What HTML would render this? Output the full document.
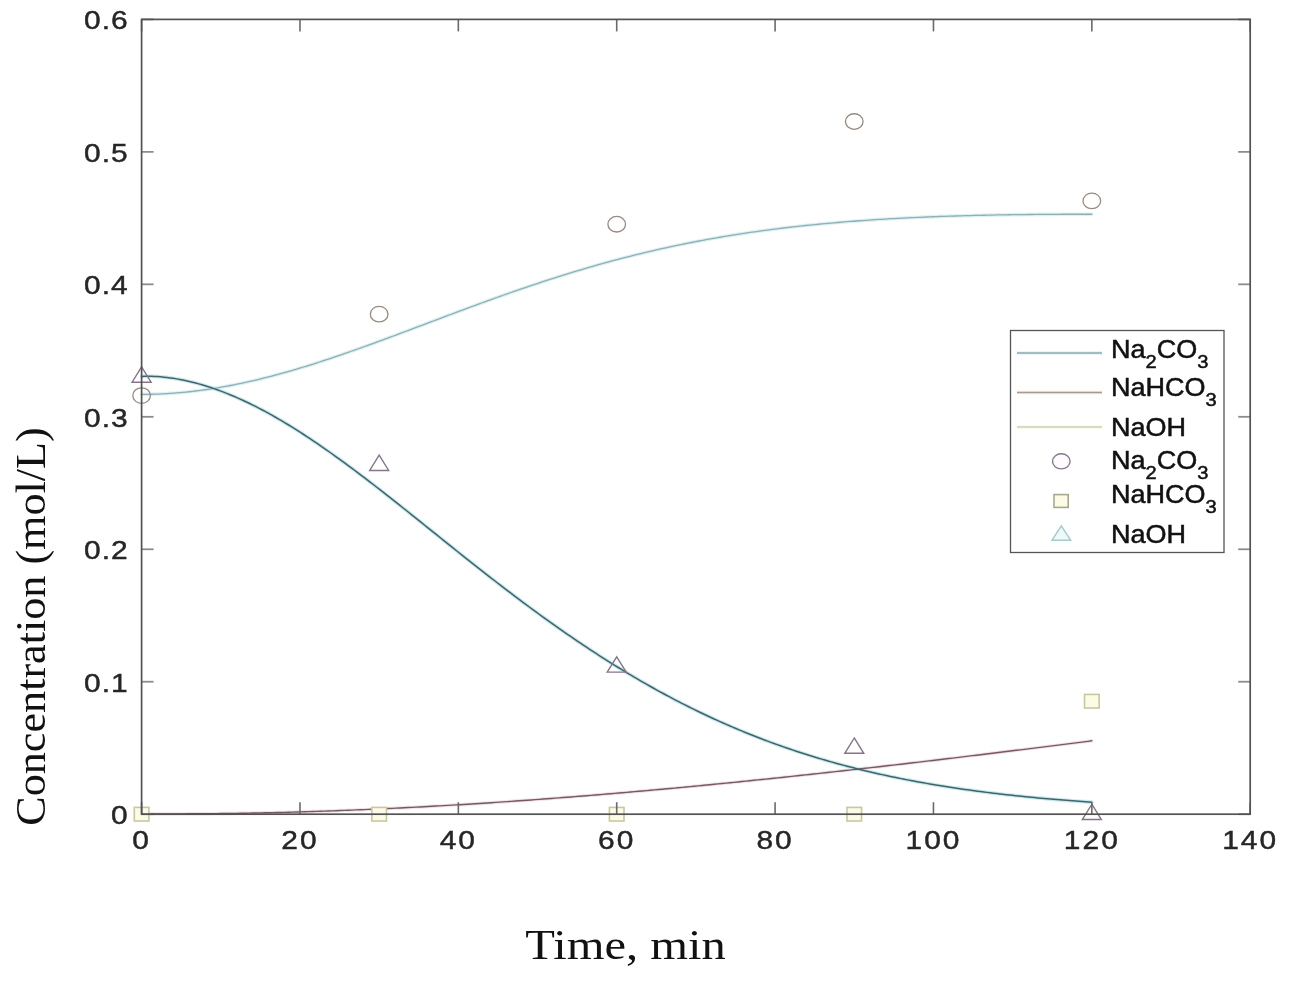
<!DOCTYPE html>
<html><head><meta charset="utf-8"><style>
html,body{margin:0;padding:0;background:#fff;}
svg{display:block;will-change:transform;}
.sans{font-family:"Liberation Sans",sans-serif;}
.serif{font-family:"Liberation Serif",serif;}
</style></head><body>
<svg width="1290" height="982" viewBox="0 0 1290 982">
<rect width="1290" height="982" fill="#fff"/>
<g fill="none" stroke-linejoin="round" stroke-linecap="round">
<path d="M141.60,813.78 L145.58,813.80 L149.55,813.82 L153.53,813.84 L157.50,813.85 L161.48,813.86 L165.45,813.87 L169.43,813.87 L173.41,813.87 L177.38,813.86 L181.36,813.85 L185.33,813.84 L189.31,813.82 L193.28,813.80 L197.26,813.77 L201.24,813.75 L205.21,813.71 L209.19,813.68 L213.16,813.64 L217.14,813.60 L221.11,813.55 L225.09,813.50 L229.07,813.45 L233.04,813.39 L237.02,813.33 L240.99,813.26 L244.97,813.20 L248.94,813.12 L252.92,813.05 L256.90,812.97 L260.87,812.89 L264.85,812.80 L268.82,812.72 L272.80,812.62 L276.77,812.53 L280.75,812.43 L284.73,812.33 L288.70,812.22 L292.68,812.11 L296.65,812.00 L300.63,811.88 L304.61,811.76 L308.58,811.64 L312.56,811.52 L316.53,811.39 L320.51,811.26 L324.48,811.12 L328.46,810.98 L332.44,810.84 L336.41,810.69 L340.39,810.55 L344.36,810.39 L348.34,810.24 L352.31,810.08 L356.29,809.92 L360.27,809.76 L364.24,809.59 L368.22,809.42 L372.19,809.25 L376.17,809.07 L380.14,808.89 L384.12,808.71 L388.10,808.52 L392.07,808.33 L396.05,808.14 L400.02,807.95 L404.00,807.75 L407.97,807.55 L411.95,807.35 L415.93,807.14 L419.90,806.93 L423.88,806.72 L427.85,806.50 L431.83,806.28 L435.80,806.06 L439.78,805.84 L443.76,805.61 L447.73,805.38 L451.71,805.15 L455.68,804.92 L459.66,804.68 L463.63,804.44 L467.61,804.20 L471.59,803.95 L475.56,803.70 L479.54,803.45 L483.51,803.20 L487.49,802.94 L491.46,802.68 L495.44,802.42 L499.42,802.15 L503.39,801.88 L507.37,801.61 L511.34,801.34 L515.32,801.07 L519.29,800.79 L523.27,800.51 L527.25,800.22 L531.22,799.94 L535.20,799.65 L539.17,799.36 L543.15,799.07 L547.12,798.77 L551.10,798.47 L555.08,798.17 L559.05,797.87 L563.03,797.57 L567.00,797.26 L570.98,796.95 L574.95,796.63 L578.93,796.32 L582.91,796.00 L586.88,795.68 L590.86,795.36 L594.83,795.04 L598.81,794.71 L602.78,794.38 L606.76,794.05 L610.74,793.72 L614.71,793.38 L618.69,793.04 L622.66,792.70 L626.64,792.36 L630.62,792.02 L634.59,791.67 L638.57,791.32 L642.54,790.97 L646.52,790.62 L650.49,790.26 L654.47,789.90 L658.45,789.54 L662.42,789.18 L666.40,788.82 L670.37,788.45 L674.35,788.09 L678.32,787.72 L682.30,787.34 L686.28,786.97 L690.25,786.59 L694.23,786.22 L698.20,785.84 L702.18,785.46 L706.15,785.07 L710.13,784.69 L714.11,784.30 L718.08,783.91 L722.06,783.52 L726.03,783.13 L730.01,782.73 L733.98,782.33 L737.96,781.93 L741.94,781.53 L745.91,781.13 L749.89,780.73 L753.86,780.32 L757.84,779.92 L761.81,779.51 L765.79,779.09 L769.77,778.68 L773.74,778.27 L777.72,777.85 L781.69,777.43 L785.67,777.01 L789.64,776.59 L793.62,776.17 L797.60,775.75 L801.57,775.32 L805.55,774.89 L809.52,774.46 L813.50,774.03 L817.47,773.60 L821.45,773.17 L825.43,772.73 L829.40,772.29 L833.38,771.86 L837.35,771.42 L841.33,770.98 L845.30,770.53 L849.28,770.09 L853.26,769.64 L857.23,769.20 L861.21,768.75 L865.18,768.30 L869.16,767.85 L873.13,767.39 L877.11,766.94 L881.09,766.48 L885.06,766.03 L889.04,765.57 L893.01,765.11 L896.99,764.65 L900.96,764.19 L904.94,763.73 L908.92,763.26 L912.89,762.80 L916.87,762.33 L920.84,761.86 L924.82,761.39 L928.79,760.92 L932.77,760.45 L936.75,759.98 L940.72,759.51 L944.70,759.03 L948.67,758.56 L952.65,758.08 L956.63,757.60 L960.60,757.12 L964.58,756.64 L968.55,756.16 L972.53,755.68 L976.50,755.20 L980.48,754.71 L984.46,754.23 L988.43,753.74 L992.41,753.25 L996.38,752.77 L1000.36,752.28 L1004.33,751.79 L1008.31,751.30 L1012.29,750.81 L1016.26,750.31 L1020.24,749.82 L1024.21,749.33 L1028.19,748.83 L1032.16,748.33 L1036.14,747.84 L1040.12,747.34 L1044.09,746.84 L1048.07,746.34 L1052.04,745.84 L1056.02,745.34 L1059.99,744.84 L1063.97,744.34 L1067.95,743.84 L1071.92,743.34 L1075.90,742.83 L1079.87,742.33 L1083.85,741.82 L1087.82,741.32 L1091.80,740.81" stroke="#f2e2e6" stroke-width="3.4"/>
<path d="M141.60,394.34 L144.78,394.34 L147.96,394.31 L151.13,394.25 L154.31,394.17 L157.49,394.07 L160.67,393.94 L163.85,393.79 L167.02,393.61 L170.20,393.42 L173.38,393.19 L176.56,392.95 L179.74,392.68 L182.91,392.39 L186.09,392.08 L189.27,391.75 L192.45,391.39 L195.62,391.01 L198.80,390.61 L201.98,390.19 L205.16,389.75 L208.34,389.29 L211.51,388.80 L214.69,388.30 L217.87,387.78 L221.05,387.23 L224.23,386.67 L227.40,386.09 L230.58,385.49 L233.76,384.87 L236.94,384.23 L240.12,383.57 L243.29,382.90 L246.47,382.20 L249.65,381.49 L252.83,380.76 L256.01,380.02 L259.18,379.26 L262.36,378.48 L265.54,377.68 L268.72,376.87 L271.89,376.05 L275.07,375.21 L278.25,374.35 L281.43,373.48 L284.61,372.60 L287.78,371.70 L290.96,370.78 L294.14,369.86 L297.32,368.92 L300.50,367.97 L303.67,367.00 L306.85,366.02 L310.03,365.04 L313.21,364.04 L316.39,363.03 L319.56,362.00 L322.74,360.97 L325.92,359.93 L329.10,358.88 L332.28,357.81 L335.45,356.74 L338.63,355.66 L341.81,354.57 L344.99,353.48 L348.17,352.37 L351.34,351.26 L354.52,350.14 L357.70,349.01 L360.88,347.88 L364.05,346.74 L367.23,345.60 L370.41,344.45 L373.59,343.29 L376.77,342.13 L379.94,340.96 L383.12,339.79 L386.30,338.62 L389.48,337.44 L392.66,336.26 L395.83,335.08 L399.01,333.89 L402.19,332.70 L405.37,331.51 L408.55,330.31 L411.72,329.12 L414.90,327.92 L418.08,326.73 L421.26,325.53 L424.44,324.33 L427.61,323.13 L430.79,321.93 L433.97,320.74 L437.15,319.54 L440.33,318.34 L443.50,317.15 L446.68,315.95 L449.86,314.76 L453.04,313.57 L456.21,312.38 L459.39,311.20 L462.57,310.02 L465.75,308.84 L468.93,307.66 L472.10,306.49 L475.28,305.32 L478.46,304.15 L481.64,302.99 L484.82,301.84 L487.99,300.68 L491.17,299.54 L494.35,298.39 L497.53,297.26 L500.71,296.12 L503.88,295.00 L507.06,293.88 L510.24,292.76 L513.42,291.65 L516.60,290.55 L519.77,289.45 L522.95,288.36 L526.13,287.28 L529.31,286.20 L532.48,285.13 L535.66,284.07 L538.84,283.01 L542.02,281.97 L545.20,280.93 L548.37,279.89 L551.55,278.87 L554.73,277.85 L557.91,276.84 L561.09,275.84 L564.26,274.85 L567.44,273.86 L570.62,272.89 L573.80,271.92 L576.98,270.96 L580.15,270.01 L583.33,269.06 L586.51,268.13 L589.69,267.21 L592.87,266.29 L596.04,265.38 L599.22,264.49 L602.40,263.60 L605.58,262.72 L608.76,261.85 L611.93,260.99 L615.11,260.13 L618.29,259.29 L621.47,258.46 L624.64,257.63 L627.82,256.82 L631.00,256.01 L634.18,255.22 L637.36,254.43 L640.53,253.65 L643.71,252.89 L646.89,252.13 L650.07,251.38 L653.25,250.64 L656.42,249.91 L659.60,249.19 L662.78,248.48 L665.96,247.77 L669.14,247.08 L672.31,246.40 L675.49,245.72 L678.67,245.06 L681.85,244.40 L685.03,243.76 L688.20,243.12 L691.38,242.49 L694.56,241.87 L697.74,241.26 L700.92,240.66 L704.09,240.07 L707.27,239.48 L710.45,238.91 L713.63,238.34 L716.80,237.79 L719.98,237.24 L723.16,236.70 L726.34,236.17 L729.52,235.65 L732.69,235.13 L735.87,234.63 L739.05,234.13 L742.23,233.64 L745.41,233.16 L748.58,232.69 L751.76,232.23 L754.94,231.77 L758.12,231.32 L761.30,230.88 L764.47,230.45 L767.65,230.03 L770.83,229.61 L774.01,229.20 L777.19,228.80 L780.36,228.41 L783.54,228.02 L786.72,227.64 L789.90,227.27 L793.07,226.90 L796.25,226.55 L799.43,226.19 L802.61,225.85 L805.79,225.51 L808.96,225.18 L812.14,224.86 L815.32,224.54 L818.50,224.23 L821.68,223.93 L824.85,223.63 L828.03,223.34 L831.21,223.05 L834.39,222.78 L837.57,222.50 L840.74,222.24 L843.92,221.97 L847.10,221.72 L850.28,221.47 L853.46,221.23 L856.63,220.99 L859.81,220.76 L862.99,220.53 L866.17,220.31 L869.35,220.09 L872.52,219.88 L875.70,219.67 L878.88,219.47 L882.06,219.28 L885.23,219.09 L888.41,218.90 L891.59,218.72 L894.77,218.54 L897.95,218.37 L901.12,218.20 L904.30,218.04 L907.48,217.88 L910.66,217.72 L913.84,217.57 L917.01,217.43 L920.19,217.29 L923.37,217.15 L926.55,217.02 L929.73,216.89 L932.90,216.76 L936.08,216.64 L939.26,216.52 L942.44,216.41 L945.62,216.30 L948.79,216.19 L951.97,216.08 L955.15,215.98 L958.33,215.89 L961.51,215.79 L964.68,215.70 L967.86,215.62 L971.04,215.53 L974.22,215.45 L977.39,215.38 L980.57,215.30 L983.75,215.23 L986.93,215.16 L990.11,215.10 L993.28,215.03 L996.46,214.97 L999.64,214.91 L1002.82,214.86 L1006.00,214.81 L1009.17,214.76 L1012.35,214.71 L1015.53,214.67 L1018.71,214.63 L1021.89,214.59 L1025.06,214.55 L1028.24,214.51 L1031.42,214.48 L1034.60,214.45 L1037.78,214.42 L1040.95,214.40 L1044.13,214.37 L1047.31,214.35 L1050.49,214.33 L1053.66,214.32 L1056.84,214.30 L1060.02,214.29 L1063.20,214.27 L1066.38,214.27 L1069.55,214.26 L1072.73,214.25 L1075.91,214.25 L1079.09,214.25 L1082.27,214.24 L1085.44,214.25 L1088.62,214.25 L1091.80,214.25" stroke="#dcf1f3" stroke-width="3.6"/>
<path d="M141.60,376.39 L144.78,376.29 L147.96,376.28 L151.13,376.33 L154.31,376.44 L157.49,376.62 L160.67,376.85 L163.85,377.14 L167.02,377.49 L170.20,377.90 L173.38,378.35 L176.56,378.87 L179.74,379.43 L182.91,380.05 L186.09,380.71 L189.27,381.43 L192.45,382.19 L195.62,383.01 L198.80,383.87 L201.98,384.78 L205.16,385.73 L208.34,386.73 L211.51,387.77 L214.69,388.86 L217.87,389.99 L221.05,391.16 L224.23,392.38 L227.40,393.64 L230.58,394.93 L233.76,396.27 L236.94,397.65 L240.12,399.07 L243.29,400.52 L246.47,402.01 L249.65,403.54 L252.83,405.10 L256.01,406.70 L259.18,408.34 L262.36,410.01 L265.54,411.71 L268.72,413.44 L271.89,415.21 L275.07,417.01 L278.25,418.84 L281.43,420.69 L284.61,422.58 L287.78,424.50 L290.96,426.45 L294.14,428.42 L297.32,430.42 L300.50,432.45 L303.67,434.50 L306.85,436.57 L310.03,438.67 L313.21,440.80 L316.39,442.95 L319.56,445.12 L322.74,447.31 L325.92,449.52 L329.10,451.75 L332.28,454.00 L335.45,456.27 L338.63,458.56 L341.81,460.87 L344.99,463.19 L348.17,465.53 L351.34,467.89 L354.52,470.26 L357.70,472.65 L360.88,475.05 L364.05,477.46 L367.23,479.88 L370.41,482.32 L373.59,484.77 L376.77,487.23 L379.94,489.70 L383.12,492.18 L386.30,494.67 L389.48,497.16 L392.66,499.67 L395.83,502.18 L399.01,504.69 L402.19,507.22 L405.37,509.75 L408.55,512.28 L411.72,514.82 L414.90,517.36 L418.08,519.90 L421.26,522.45 L424.44,525.00 L427.61,527.55 L430.79,530.10 L433.97,532.65 L437.15,535.20 L440.33,537.75 L443.50,540.30 L446.68,542.85 L449.86,545.40 L453.04,547.94 L456.21,550.48 L459.39,553.02 L462.57,555.55 L465.75,558.07 L468.93,560.60 L472.10,563.11 L475.28,565.62 L478.46,568.13 L481.64,570.62 L484.82,573.11 L487.99,575.59 L491.17,578.07 L494.35,580.53 L497.53,582.99 L500.71,585.44 L503.88,587.88 L507.06,590.30 L510.24,592.72 L513.42,595.13 L516.60,597.53 L519.77,599.92 L522.95,602.30 L526.13,604.66 L529.31,607.02 L532.48,609.36 L535.66,611.69 L538.84,614.01 L542.02,616.31 L545.20,618.61 L548.37,620.89 L551.55,623.16 L554.73,625.41 L557.91,627.65 L561.09,629.88 L564.26,632.10 L567.44,634.30 L570.62,636.48 L573.80,638.66 L576.98,640.81 L580.15,642.96 L583.33,645.09 L586.51,647.20 L589.69,649.30 L592.87,651.38 L596.04,653.45 L599.22,655.51 L602.40,657.55 L605.58,659.57 L608.76,661.58 L611.93,663.57 L615.11,665.55 L618.29,667.51 L621.47,669.46 L624.64,671.39 L627.82,673.30 L631.00,675.20 L634.18,677.08 L637.36,678.94 L640.53,680.79 L643.71,682.62 L646.89,684.44 L650.07,686.24 L653.25,688.02 L656.42,689.79 L659.60,691.54 L662.78,693.27 L665.96,694.99 L669.14,696.69 L672.31,698.37 L675.49,700.04 L678.67,701.69 L681.85,703.32 L685.03,704.94 L688.20,706.53 L691.38,708.12 L694.56,709.68 L697.74,711.23 L700.92,712.76 L704.09,714.28 L707.27,715.78 L710.45,717.26 L713.63,718.73 L716.80,720.17 L719.98,721.61 L723.16,723.02 L726.34,724.42 L729.52,725.81 L732.69,727.17 L735.87,728.52 L739.05,729.86 L742.23,731.18 L745.41,732.48 L748.58,733.77 L751.76,735.04 L754.94,736.29 L758.12,737.53 L761.30,738.75 L764.47,739.96 L767.65,741.15 L770.83,742.33 L774.01,743.49 L777.19,744.64 L780.36,745.77 L783.54,746.88 L786.72,747.99 L789.90,749.07 L793.07,750.14 L796.25,751.20 L799.43,752.24 L802.61,753.27 L805.79,754.28 L808.96,755.28 L812.14,756.27 L815.32,757.24 L818.50,758.20 L821.68,759.14 L824.85,760.07 L828.03,760.99 L831.21,761.89 L834.39,762.78 L837.57,763.66 L840.74,764.52 L843.92,765.37 L847.10,766.21 L850.28,767.04 L853.46,767.85 L856.63,768.65 L859.81,769.44 L862.99,770.21 L866.17,770.98 L869.35,771.73 L872.52,772.47 L875.70,773.20 L878.88,773.92 L882.06,774.62 L885.23,775.32 L888.41,776.00 L891.59,776.67 L894.77,777.34 L897.95,777.99 L901.12,778.63 L904.30,779.26 L907.48,779.88 L910.66,780.48 L913.84,781.08 L917.01,781.67 L920.19,782.25 L923.37,782.82 L926.55,783.38 L929.73,783.93 L932.90,784.47 L936.08,785.01 L939.26,785.53 L942.44,786.04 L945.62,786.55 L948.79,787.04 L951.97,787.53 L955.15,788.01 L958.33,788.48 L961.51,788.95 L964.68,789.40 L967.86,789.85 L971.04,790.29 L974.22,790.72 L977.39,791.14 L980.57,791.56 L983.75,791.96 L986.93,792.37 L990.11,792.76 L993.28,793.15 L996.46,793.53 L999.64,793.90 L1002.82,794.27 L1006.00,794.63 L1009.17,794.98 L1012.35,795.33 L1015.53,795.67 L1018.71,796.00 L1021.89,796.33 L1025.06,796.65 L1028.24,796.97 L1031.42,797.28 L1034.60,797.58 L1037.78,797.88 L1040.95,798.18 L1044.13,798.46 L1047.31,798.75 L1050.49,799.02 L1053.66,799.30 L1056.84,799.56 L1060.02,799.83 L1063.20,800.09 L1066.38,800.34 L1069.55,800.59 L1072.73,800.83 L1075.91,801.07 L1079.09,801.31 L1082.27,801.54 L1085.44,801.76 L1088.62,801.99 L1091.80,802.20" stroke="#c8ebf0" stroke-width="3.8"/>
<path d="M141.60,813.78 L145.58,813.80 L149.55,813.82 L153.53,813.84 L157.50,813.85 L161.48,813.86 L165.45,813.87 L169.43,813.87 L173.41,813.87 L177.38,813.86 L181.36,813.85 L185.33,813.84 L189.31,813.82 L193.28,813.80 L197.26,813.77 L201.24,813.75 L205.21,813.71 L209.19,813.68 L213.16,813.64 L217.14,813.60 L221.11,813.55 L225.09,813.50 L229.07,813.45 L233.04,813.39 L237.02,813.33 L240.99,813.26 L244.97,813.20 L248.94,813.12 L252.92,813.05 L256.90,812.97 L260.87,812.89 L264.85,812.80 L268.82,812.72 L272.80,812.62 L276.77,812.53 L280.75,812.43 L284.73,812.33 L288.70,812.22 L292.68,812.11 L296.65,812.00 L300.63,811.88 L304.61,811.76 L308.58,811.64 L312.56,811.52 L316.53,811.39 L320.51,811.26 L324.48,811.12 L328.46,810.98 L332.44,810.84 L336.41,810.69 L340.39,810.55 L344.36,810.39 L348.34,810.24 L352.31,810.08 L356.29,809.92 L360.27,809.76 L364.24,809.59 L368.22,809.42 L372.19,809.25 L376.17,809.07 L380.14,808.89 L384.12,808.71 L388.10,808.52 L392.07,808.33 L396.05,808.14 L400.02,807.95 L404.00,807.75 L407.97,807.55 L411.95,807.35 L415.93,807.14 L419.90,806.93 L423.88,806.72 L427.85,806.50 L431.83,806.28 L435.80,806.06 L439.78,805.84 L443.76,805.61 L447.73,805.38 L451.71,805.15 L455.68,804.92 L459.66,804.68 L463.63,804.44 L467.61,804.20 L471.59,803.95 L475.56,803.70 L479.54,803.45 L483.51,803.20 L487.49,802.94 L491.46,802.68 L495.44,802.42 L499.42,802.15 L503.39,801.88 L507.37,801.61 L511.34,801.34 L515.32,801.07 L519.29,800.79 L523.27,800.51 L527.25,800.22 L531.22,799.94 L535.20,799.65 L539.17,799.36 L543.15,799.07 L547.12,798.77 L551.10,798.47 L555.08,798.17 L559.05,797.87 L563.03,797.57 L567.00,797.26 L570.98,796.95 L574.95,796.63 L578.93,796.32 L582.91,796.00 L586.88,795.68 L590.86,795.36 L594.83,795.04 L598.81,794.71 L602.78,794.38 L606.76,794.05 L610.74,793.72 L614.71,793.38 L618.69,793.04 L622.66,792.70 L626.64,792.36 L630.62,792.02 L634.59,791.67 L638.57,791.32 L642.54,790.97 L646.52,790.62 L650.49,790.26 L654.47,789.90 L658.45,789.54 L662.42,789.18 L666.40,788.82 L670.37,788.45 L674.35,788.09 L678.32,787.72 L682.30,787.34 L686.28,786.97 L690.25,786.59 L694.23,786.22 L698.20,785.84 L702.18,785.46 L706.15,785.07 L710.13,784.69 L714.11,784.30 L718.08,783.91 L722.06,783.52 L726.03,783.13 L730.01,782.73 L733.98,782.33 L737.96,781.93 L741.94,781.53 L745.91,781.13 L749.89,780.73 L753.86,780.32 L757.84,779.92 L761.81,779.51 L765.79,779.09 L769.77,778.68 L773.74,778.27 L777.72,777.85 L781.69,777.43 L785.67,777.01 L789.64,776.59 L793.62,776.17 L797.60,775.75 L801.57,775.32 L805.55,774.89 L809.52,774.46 L813.50,774.03 L817.47,773.60 L821.45,773.17 L825.43,772.73 L829.40,772.29 L833.38,771.86 L837.35,771.42 L841.33,770.98 L845.30,770.53 L849.28,770.09 L853.26,769.64 L857.23,769.20 L861.21,768.75 L865.18,768.30 L869.16,767.85 L873.13,767.39 L877.11,766.94 L881.09,766.48 L885.06,766.03 L889.04,765.57 L893.01,765.11 L896.99,764.65 L900.96,764.19 L904.94,763.73 L908.92,763.26 L912.89,762.80 L916.87,762.33 L920.84,761.86 L924.82,761.39 L928.79,760.92 L932.77,760.45 L936.75,759.98 L940.72,759.51 L944.70,759.03 L948.67,758.56 L952.65,758.08 L956.63,757.60 L960.60,757.12 L964.58,756.64 L968.55,756.16 L972.53,755.68 L976.50,755.20 L980.48,754.71 L984.46,754.23 L988.43,753.74 L992.41,753.25 L996.38,752.77 L1000.36,752.28 L1004.33,751.79 L1008.31,751.30 L1012.29,750.81 L1016.26,750.31 L1020.24,749.82 L1024.21,749.33 L1028.19,748.83 L1032.16,748.33 L1036.14,747.84 L1040.12,747.34 L1044.09,746.84 L1048.07,746.34 L1052.04,745.84 L1056.02,745.34 L1059.99,744.84 L1063.97,744.34 L1067.95,743.84 L1071.92,743.34 L1075.90,742.83 L1079.87,742.33 L1083.85,741.82 L1087.82,741.32 L1091.80,740.81" stroke="#765a62" stroke-width="1.4"/>
<path d="M141.60,394.34 L144.78,394.34 L147.96,394.31 L151.13,394.25 L154.31,394.17 L157.49,394.07 L160.67,393.94 L163.85,393.79 L167.02,393.61 L170.20,393.42 L173.38,393.19 L176.56,392.95 L179.74,392.68 L182.91,392.39 L186.09,392.08 L189.27,391.75 L192.45,391.39 L195.62,391.01 L198.80,390.61 L201.98,390.19 L205.16,389.75 L208.34,389.29 L211.51,388.80 L214.69,388.30 L217.87,387.78 L221.05,387.23 L224.23,386.67 L227.40,386.09 L230.58,385.49 L233.76,384.87 L236.94,384.23 L240.12,383.57 L243.29,382.90 L246.47,382.20 L249.65,381.49 L252.83,380.76 L256.01,380.02 L259.18,379.26 L262.36,378.48 L265.54,377.68 L268.72,376.87 L271.89,376.05 L275.07,375.21 L278.25,374.35 L281.43,373.48 L284.61,372.60 L287.78,371.70 L290.96,370.78 L294.14,369.86 L297.32,368.92 L300.50,367.97 L303.67,367.00 L306.85,366.02 L310.03,365.04 L313.21,364.04 L316.39,363.03 L319.56,362.00 L322.74,360.97 L325.92,359.93 L329.10,358.88 L332.28,357.81 L335.45,356.74 L338.63,355.66 L341.81,354.57 L344.99,353.48 L348.17,352.37 L351.34,351.26 L354.52,350.14 L357.70,349.01 L360.88,347.88 L364.05,346.74 L367.23,345.60 L370.41,344.45 L373.59,343.29 L376.77,342.13 L379.94,340.96 L383.12,339.79 L386.30,338.62 L389.48,337.44 L392.66,336.26 L395.83,335.08 L399.01,333.89 L402.19,332.70 L405.37,331.51 L408.55,330.31 L411.72,329.12 L414.90,327.92 L418.08,326.73 L421.26,325.53 L424.44,324.33 L427.61,323.13 L430.79,321.93 L433.97,320.74 L437.15,319.54 L440.33,318.34 L443.50,317.15 L446.68,315.95 L449.86,314.76 L453.04,313.57 L456.21,312.38 L459.39,311.20 L462.57,310.02 L465.75,308.84 L468.93,307.66 L472.10,306.49 L475.28,305.32 L478.46,304.15 L481.64,302.99 L484.82,301.84 L487.99,300.68 L491.17,299.54 L494.35,298.39 L497.53,297.26 L500.71,296.12 L503.88,295.00 L507.06,293.88 L510.24,292.76 L513.42,291.65 L516.60,290.55 L519.77,289.45 L522.95,288.36 L526.13,287.28 L529.31,286.20 L532.48,285.13 L535.66,284.07 L538.84,283.01 L542.02,281.97 L545.20,280.93 L548.37,279.89 L551.55,278.87 L554.73,277.85 L557.91,276.84 L561.09,275.84 L564.26,274.85 L567.44,273.86 L570.62,272.89 L573.80,271.92 L576.98,270.96 L580.15,270.01 L583.33,269.06 L586.51,268.13 L589.69,267.21 L592.87,266.29 L596.04,265.38 L599.22,264.49 L602.40,263.60 L605.58,262.72 L608.76,261.85 L611.93,260.99 L615.11,260.13 L618.29,259.29 L621.47,258.46 L624.64,257.63 L627.82,256.82 L631.00,256.01 L634.18,255.22 L637.36,254.43 L640.53,253.65 L643.71,252.89 L646.89,252.13 L650.07,251.38 L653.25,250.64 L656.42,249.91 L659.60,249.19 L662.78,248.48 L665.96,247.77 L669.14,247.08 L672.31,246.40 L675.49,245.72 L678.67,245.06 L681.85,244.40 L685.03,243.76 L688.20,243.12 L691.38,242.49 L694.56,241.87 L697.74,241.26 L700.92,240.66 L704.09,240.07 L707.27,239.48 L710.45,238.91 L713.63,238.34 L716.80,237.79 L719.98,237.24 L723.16,236.70 L726.34,236.17 L729.52,235.65 L732.69,235.13 L735.87,234.63 L739.05,234.13 L742.23,233.64 L745.41,233.16 L748.58,232.69 L751.76,232.23 L754.94,231.77 L758.12,231.32 L761.30,230.88 L764.47,230.45 L767.65,230.03 L770.83,229.61 L774.01,229.20 L777.19,228.80 L780.36,228.41 L783.54,228.02 L786.72,227.64 L789.90,227.27 L793.07,226.90 L796.25,226.55 L799.43,226.19 L802.61,225.85 L805.79,225.51 L808.96,225.18 L812.14,224.86 L815.32,224.54 L818.50,224.23 L821.68,223.93 L824.85,223.63 L828.03,223.34 L831.21,223.05 L834.39,222.78 L837.57,222.50 L840.74,222.24 L843.92,221.97 L847.10,221.72 L850.28,221.47 L853.46,221.23 L856.63,220.99 L859.81,220.76 L862.99,220.53 L866.17,220.31 L869.35,220.09 L872.52,219.88 L875.70,219.67 L878.88,219.47 L882.06,219.28 L885.23,219.09 L888.41,218.90 L891.59,218.72 L894.77,218.54 L897.95,218.37 L901.12,218.20 L904.30,218.04 L907.48,217.88 L910.66,217.72 L913.84,217.57 L917.01,217.43 L920.19,217.29 L923.37,217.15 L926.55,217.02 L929.73,216.89 L932.90,216.76 L936.08,216.64 L939.26,216.52 L942.44,216.41 L945.62,216.30 L948.79,216.19 L951.97,216.08 L955.15,215.98 L958.33,215.89 L961.51,215.79 L964.68,215.70 L967.86,215.62 L971.04,215.53 L974.22,215.45 L977.39,215.38 L980.57,215.30 L983.75,215.23 L986.93,215.16 L990.11,215.10 L993.28,215.03 L996.46,214.97 L999.64,214.91 L1002.82,214.86 L1006.00,214.81 L1009.17,214.76 L1012.35,214.71 L1015.53,214.67 L1018.71,214.63 L1021.89,214.59 L1025.06,214.55 L1028.24,214.51 L1031.42,214.48 L1034.60,214.45 L1037.78,214.42 L1040.95,214.40 L1044.13,214.37 L1047.31,214.35 L1050.49,214.33 L1053.66,214.32 L1056.84,214.30 L1060.02,214.29 L1063.20,214.27 L1066.38,214.27 L1069.55,214.26 L1072.73,214.25 L1075.91,214.25 L1079.09,214.25 L1082.27,214.24 L1085.44,214.25 L1088.62,214.25 L1091.80,214.25" stroke="#8fb0b4" stroke-width="1.3"/>
<path d="M141.60,376.39 L144.78,376.29 L147.96,376.28 L151.13,376.33 L154.31,376.44 L157.49,376.62 L160.67,376.85 L163.85,377.14 L167.02,377.49 L170.20,377.90 L173.38,378.35 L176.56,378.87 L179.74,379.43 L182.91,380.05 L186.09,380.71 L189.27,381.43 L192.45,382.19 L195.62,383.01 L198.80,383.87 L201.98,384.78 L205.16,385.73 L208.34,386.73 L211.51,387.77 L214.69,388.86 L217.87,389.99 L221.05,391.16 L224.23,392.38 L227.40,393.64 L230.58,394.93 L233.76,396.27 L236.94,397.65 L240.12,399.07 L243.29,400.52 L246.47,402.01 L249.65,403.54 L252.83,405.10 L256.01,406.70 L259.18,408.34 L262.36,410.01 L265.54,411.71 L268.72,413.44 L271.89,415.21 L275.07,417.01 L278.25,418.84 L281.43,420.69 L284.61,422.58 L287.78,424.50 L290.96,426.45 L294.14,428.42 L297.32,430.42 L300.50,432.45 L303.67,434.50 L306.85,436.57 L310.03,438.67 L313.21,440.80 L316.39,442.95 L319.56,445.12 L322.74,447.31 L325.92,449.52 L329.10,451.75 L332.28,454.00 L335.45,456.27 L338.63,458.56 L341.81,460.87 L344.99,463.19 L348.17,465.53 L351.34,467.89 L354.52,470.26 L357.70,472.65 L360.88,475.05 L364.05,477.46 L367.23,479.88 L370.41,482.32 L373.59,484.77 L376.77,487.23 L379.94,489.70 L383.12,492.18 L386.30,494.67 L389.48,497.16 L392.66,499.67 L395.83,502.18 L399.01,504.69 L402.19,507.22 L405.37,509.75 L408.55,512.28 L411.72,514.82 L414.90,517.36 L418.08,519.90 L421.26,522.45 L424.44,525.00 L427.61,527.55 L430.79,530.10 L433.97,532.65 L437.15,535.20 L440.33,537.75 L443.50,540.30 L446.68,542.85 L449.86,545.40 L453.04,547.94 L456.21,550.48 L459.39,553.02 L462.57,555.55 L465.75,558.07 L468.93,560.60 L472.10,563.11 L475.28,565.62 L478.46,568.13 L481.64,570.62 L484.82,573.11 L487.99,575.59 L491.17,578.07 L494.35,580.53 L497.53,582.99 L500.71,585.44 L503.88,587.88 L507.06,590.30 L510.24,592.72 L513.42,595.13 L516.60,597.53 L519.77,599.92 L522.95,602.30 L526.13,604.66 L529.31,607.02 L532.48,609.36 L535.66,611.69 L538.84,614.01 L542.02,616.31 L545.20,618.61 L548.37,620.89 L551.55,623.16 L554.73,625.41 L557.91,627.65 L561.09,629.88 L564.26,632.10 L567.44,634.30 L570.62,636.48 L573.80,638.66 L576.98,640.81 L580.15,642.96 L583.33,645.09 L586.51,647.20 L589.69,649.30 L592.87,651.38 L596.04,653.45 L599.22,655.51 L602.40,657.55 L605.58,659.57 L608.76,661.58 L611.93,663.57 L615.11,665.55 L618.29,667.51 L621.47,669.46 L624.64,671.39 L627.82,673.30 L631.00,675.20 L634.18,677.08 L637.36,678.94 L640.53,680.79 L643.71,682.62 L646.89,684.44 L650.07,686.24 L653.25,688.02 L656.42,689.79 L659.60,691.54 L662.78,693.27 L665.96,694.99 L669.14,696.69 L672.31,698.37 L675.49,700.04 L678.67,701.69 L681.85,703.32 L685.03,704.94 L688.20,706.53 L691.38,708.12 L694.56,709.68 L697.74,711.23 L700.92,712.76 L704.09,714.28 L707.27,715.78 L710.45,717.26 L713.63,718.73 L716.80,720.17 L719.98,721.61 L723.16,723.02 L726.34,724.42 L729.52,725.81 L732.69,727.17 L735.87,728.52 L739.05,729.86 L742.23,731.18 L745.41,732.48 L748.58,733.77 L751.76,735.04 L754.94,736.29 L758.12,737.53 L761.30,738.75 L764.47,739.96 L767.65,741.15 L770.83,742.33 L774.01,743.49 L777.19,744.64 L780.36,745.77 L783.54,746.88 L786.72,747.99 L789.90,749.07 L793.07,750.14 L796.25,751.20 L799.43,752.24 L802.61,753.27 L805.79,754.28 L808.96,755.28 L812.14,756.27 L815.32,757.24 L818.50,758.20 L821.68,759.14 L824.85,760.07 L828.03,760.99 L831.21,761.89 L834.39,762.78 L837.57,763.66 L840.74,764.52 L843.92,765.37 L847.10,766.21 L850.28,767.04 L853.46,767.85 L856.63,768.65 L859.81,769.44 L862.99,770.21 L866.17,770.98 L869.35,771.73 L872.52,772.47 L875.70,773.20 L878.88,773.92 L882.06,774.62 L885.23,775.32 L888.41,776.00 L891.59,776.67 L894.77,777.34 L897.95,777.99 L901.12,778.63 L904.30,779.26 L907.48,779.88 L910.66,780.48 L913.84,781.08 L917.01,781.67 L920.19,782.25 L923.37,782.82 L926.55,783.38 L929.73,783.93 L932.90,784.47 L936.08,785.01 L939.26,785.53 L942.44,786.04 L945.62,786.55 L948.79,787.04 L951.97,787.53 L955.15,788.01 L958.33,788.48 L961.51,788.95 L964.68,789.40 L967.86,789.85 L971.04,790.29 L974.22,790.72 L977.39,791.14 L980.57,791.56 L983.75,791.96 L986.93,792.37 L990.11,792.76 L993.28,793.15 L996.46,793.53 L999.64,793.90 L1002.82,794.27 L1006.00,794.63 L1009.17,794.98 L1012.35,795.33 L1015.53,795.67 L1018.71,796.00 L1021.89,796.33 L1025.06,796.65 L1028.24,796.97 L1031.42,797.28 L1034.60,797.58 L1037.78,797.88 L1040.95,798.18 L1044.13,798.46 L1047.31,798.75 L1050.49,799.02 L1053.66,799.30 L1056.84,799.56 L1060.02,799.83 L1063.20,800.09 L1066.38,800.34 L1069.55,800.59 L1072.73,800.83 L1075.91,801.07 L1079.09,801.31 L1082.27,801.54 L1085.44,801.76 L1088.62,801.99 L1091.80,802.20" stroke="#44626a" stroke-width="1.5"/>
</g>
<g fill="none" stroke="#988a7e" stroke-width="1.3"><ellipse cx="141.60" cy="395.61" rx="8.8" ry="7.8"/><ellipse cx="379.16" cy="314.14" rx="8.8" ry="7.8"/><ellipse cx="616.71" cy="224.19" rx="8.8" ry="7.8"/><ellipse cx="854.27" cy="121.53" rx="8.8" ry="7.8"/><ellipse cx="1091.83" cy="200.88" rx="8.8" ry="7.8"/></g>
<g fill="none" stroke="#85758a" stroke-width="1.4"><path d="M141.60,366.94 L151.10,382.24 L132.10,382.24 Z"/><path d="M379.16,455.16 L388.66,470.46 L369.66,470.46 Z"/><path d="M616.71,656.78 L626.21,672.08 L607.21,672.08 Z"/><path d="M854.27,737.98 L863.77,753.28 L844.77,753.28 Z"/><path d="M1091.83,804.21 L1101.33,819.51 L1082.33,819.51 Z"/></g>
<g fill="#fcfce6" stroke="#c9c7a0" stroke-width="1.6"><rect x="134.30" y="807.40" width="14.6" height="13.6"/><rect x="371.86" y="807.40" width="14.6" height="13.6"/><rect x="609.41" y="807.40" width="14.6" height="13.6"/><rect x="846.97" y="807.40" width="14.6" height="13.6"/><rect x="1084.53" y="694.41" width="14.6" height="13.6"/></g>
<g stroke="#6a6a6a" stroke-width="1.6" fill="none"><line x1="141.60" y1="814.2" x2="141.60" y2="802.2"/><line x1="141.60" y1="19.4" x2="141.60" y2="31.4"/><line x1="299.97" y1="814.2" x2="299.97" y2="802.2"/><line x1="299.97" y1="19.4" x2="299.97" y2="31.4"/><line x1="458.34" y1="814.2" x2="458.34" y2="802.2"/><line x1="458.34" y1="19.4" x2="458.34" y2="31.4"/><line x1="616.71" y1="814.2" x2="616.71" y2="802.2"/><line x1="616.71" y1="19.4" x2="616.71" y2="31.4"/><line x1="775.09" y1="814.2" x2="775.09" y2="802.2"/><line x1="775.09" y1="19.4" x2="775.09" y2="31.4"/><line x1="933.46" y1="814.2" x2="933.46" y2="802.2"/><line x1="933.46" y1="19.4" x2="933.46" y2="31.4"/><line x1="1091.83" y1="814.2" x2="1091.83" y2="802.2"/><line x1="1091.83" y1="19.4" x2="1091.83" y2="31.4"/><line x1="1250.20" y1="814.2" x2="1250.20" y2="802.2"/><line x1="1250.20" y1="19.4" x2="1250.20" y2="31.4"/></g>
<g stroke="#8c8c8c" stroke-width="1.8" fill="none"><line x1="141.6" y1="814.20" x2="153.6" y2="814.20"/><line x1="1250.2" y1="814.20" x2="1238.2" y2="814.20"/><line x1="141.6" y1="681.73" x2="153.6" y2="681.73"/><line x1="1250.2" y1="681.73" x2="1238.2" y2="681.73"/><line x1="141.6" y1="549.27" x2="153.6" y2="549.27"/><line x1="1250.2" y1="549.27" x2="1238.2" y2="549.27"/><line x1="141.6" y1="416.80" x2="153.6" y2="416.80"/><line x1="1250.2" y1="416.80" x2="1238.2" y2="416.80"/><line x1="141.6" y1="284.33" x2="153.6" y2="284.33"/><line x1="1250.2" y1="284.33" x2="1238.2" y2="284.33"/><line x1="141.6" y1="151.87" x2="153.6" y2="151.87"/><line x1="1250.2" y1="151.87" x2="1238.2" y2="151.87"/><line x1="141.6" y1="19.40" x2="153.6" y2="19.40"/><line x1="1250.2" y1="19.40" x2="1238.2" y2="19.40"/></g>
<g stroke="#525252" stroke-width="1.7" fill="none">
<rect x="141.6" y="19.4" width="1108.60" height="794.80"/>
</g>
<g class="sans" font-size="26.5" fill="#262626" stroke="#262626" stroke-width="0.45" letter-spacing="1.8"><text transform="translate(141.60,848.7) scale(1.13,1)" text-anchor="middle">0</text><text transform="translate(299.97,848.7) scale(1.13,1)" text-anchor="middle">20</text><text transform="translate(458.34,848.7) scale(1.13,1)" text-anchor="middle">40</text><text transform="translate(616.71,848.7) scale(1.13,1)" text-anchor="middle">60</text><text transform="translate(775.09,848.7) scale(1.13,1)" text-anchor="middle">80</text><text transform="translate(933.46,848.7) scale(1.13,1)" text-anchor="middle">100</text><text transform="translate(1091.83,848.7) scale(1.13,1)" text-anchor="middle">120</text><text transform="translate(1250.20,848.7) scale(1.13,1)" text-anchor="middle">140</text><text transform="translate(128.9,824.20) scale(1.13,1)" text-anchor="end" letter-spacing="1.0">0</text><text transform="translate(128.9,691.73) scale(1.13,1)" text-anchor="end" letter-spacing="1.0">0.1</text><text transform="translate(128.9,559.27) scale(1.13,1)" text-anchor="end" letter-spacing="1.0">0.2</text><text transform="translate(128.9,426.80) scale(1.13,1)" text-anchor="end" letter-spacing="1.0">0.3</text><text transform="translate(128.9,294.33) scale(1.13,1)" text-anchor="end" letter-spacing="1.0">0.4</text><text transform="translate(128.9,161.87) scale(1.13,1)" text-anchor="end" letter-spacing="1.0">0.5</text><text transform="translate(128.9,29.40) scale(1.13,1)" text-anchor="end" letter-spacing="1.0">0.6</text></g>
<text class="serif" font-size="41.5" fill="#111" transform="translate(625.5,958.5) scale(1.17,1)" text-anchor="middle">Time, min</text>
<text class="serif" font-size="43.7" fill="#111" transform="translate(45,626.5) rotate(-90) scale(1.0105,0.95)" text-anchor="middle">Concentration (mol/L)</text>
<!-- legend -->
<rect x="1010.5" y="330.5" width="213.5" height="222" fill="#fff" stroke="#555" stroke-width="1.3"/>
<g stroke-width="1.5">
<line x1="1017" y1="353" x2="1102" y2="353" stroke="#e2f2f4" stroke-width="3.4"/><line x1="1017" y1="353" x2="1102" y2="353" stroke="#8fa8b0" stroke-width="1.4"/>
<line x1="1017" y1="392.5" x2="1102" y2="392.5" stroke="#f6efe0" stroke-width="3.4"/><line x1="1017" y1="392.5" x2="1102" y2="392.5" stroke="#a89a90" stroke-width="1.4"/>
<line x1="1017" y1="427" x2="1102" y2="427" stroke="#fbfae2" stroke-width="3.6"/><line x1="1017" y1="427" x2="1102" y2="427" stroke="#cdd0bd" stroke-width="1.4"/>
<ellipse cx="1061.3" cy="461.3" rx="8.8" ry="7.6" fill="#fdfbfd" stroke="#857a8c" stroke-width="1.4"/>
<rect x="1054" y="494.6" width="14.2" height="12.8" fill="#fcfce6" stroke="#aaa88c" stroke-width="1.6"/>
<path d="M1061.3,525.8 L1070.6,540.2 L1052,540.2 Z" fill="#eef9f9" stroke="#a6caca" stroke-width="1.5"/>
</g>
<g class="sans" font-size="25.5" fill="#111" stroke="#111" stroke-width="0.5">
<text transform="translate(1111,358) scale(1.06,1)">Na<tspan font-size="19" dy="10">2</tspan><tspan dy="-10">CO</tspan><tspan font-size="19" dy="10">3</tspan></text>
<text transform="translate(1111,395.5) scale(1.06,1)">NaHCO<tspan font-size="19" dy="10">3</tspan></text>
<text transform="translate(1111,435.8) scale(1.06,1)">NaOH</text>
<text transform="translate(1111,469) scale(1.06,1)">Na<tspan font-size="19" dy="10">2</tspan><tspan dy="-10">CO</tspan><tspan font-size="19" dy="10">3</tspan></text>
<text transform="translate(1111,503.3) scale(1.06,1)">NaHCO<tspan font-size="19" dy="10">3</tspan></text>
<text transform="translate(1111,543) scale(1.06,1)">NaOH</text>
</g>
</svg>
</body></html>
